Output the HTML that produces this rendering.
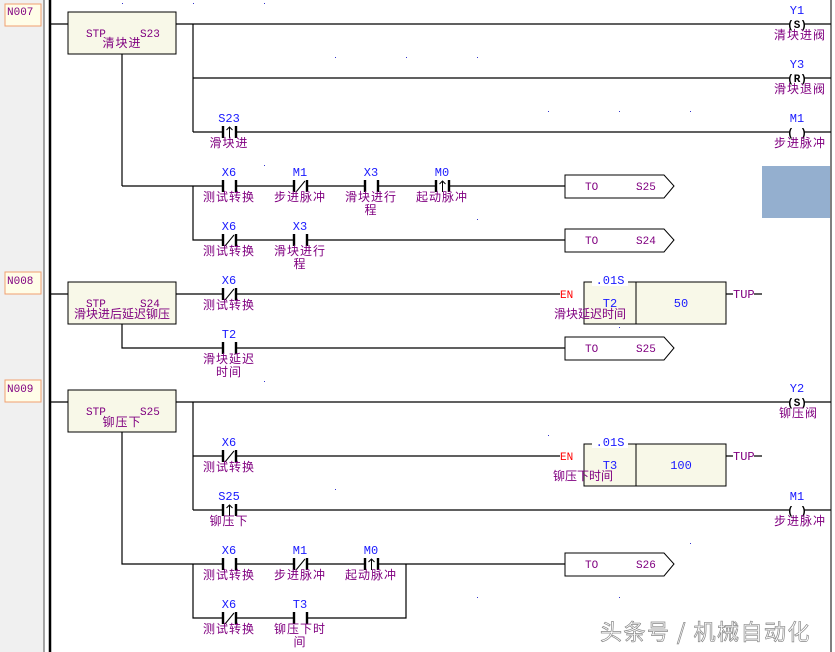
<!DOCTYPE html>
<html><head><meta charset="utf-8"><style>
html,body{margin:0;padding:0;background:#fff;}
svg{display:block;}
text{font-family:"Liberation Mono","Noto Sans CJK SC",monospace;font-size:11px;}
.l{fill:#1a1aff;text-anchor:middle;font-size:12px;}
.c{fill:#800080;text-anchor:middle;font-size:12px;letter-spacing:1px;font-family:"Noto Sans CJK SC",sans-serif;}
.cr{fill:#800080;text-anchor:end;font-size:12px;letter-spacing:1px;font-family:"Noto Sans CJK SC",sans-serif;}
.p{fill:#800080;font-size:11px;}
.w{stroke:#000;stroke-width:1.2;fill:none;}
.b{stroke:#000;stroke-width:2.4;}
</style></head><body>
<svg width="835" height="652" xmlns="http://www.w3.org/2000/svg">
<rect x="0" y="0" width="44" height="652" fill="#f0f0f0"/>
<line x1="44" y1="0" x2="44" y2="652" stroke="#888" stroke-width="1.5"/>
<line x1="50" y1="0" x2="50" y2="652" stroke="#000" stroke-width="2.5"/>
<line x1="831" y1="0" x2="831" y2="652" stroke="#000" stroke-width="1"/>
<rect x="762" y="166" width="68" height="52" fill="#94afcf"/>
<g fill="#3333cc">
<rect x="122" y="3" width="1" height="1"/><rect x="193" y="3" width="1" height="1"/><rect x="264" y="3" width="1" height="1"/>
<rect x="335" y="57" width="1" height="1"/><rect x="406" y="57" width="1" height="1"/><rect x="477" y="57" width="1" height="1"/>
<rect x="548" y="111" width="1" height="1"/><rect x="619" y="111" width="1" height="1"/><rect x="690" y="111" width="1" height="1"/>
<rect x="264" y="165" width="1" height="1"/><rect x="477" y="219" width="1" height="1"/><rect x="619" y="327" width="1" height="1"/>
<rect x="264" y="381" width="1" height="1"/><rect x="548" y="435" width="1" height="1"/><rect x="335" y="489" width="1" height="1"/>
<rect x="690" y="543" width="1" height="1"/><rect x="477" y="597" width="1" height="1"/><rect x="619" y="597" width="1" height="1"/>
</g>
<g>
<rect x="5" y="4" width="36" height="22" fill="#fffde8" stroke="#f0a070"/><text x="7" y="15" class="p">N007</text>
<rect x="5" y="272" width="36" height="22" fill="#fffde8" stroke="#f0a070"/><text x="7" y="284" class="p">N008</text>
<rect x="5" y="380" width="36" height="22" fill="#fffde8" stroke="#f0a070"/><text x="7" y="392" class="p">N009</text>
</g>
<g class="w">
<path d="M50 24H68M176 24H790M804 24H831"/>
<path d="M193 24V132M193 78H790M804 78H831"/>
<path d="M193 132H223M236 132H790M804 132H831"/>
<path d="M122 54V186M122 186H565M193 186V240H565"/>
<path d="M50 294H68M176 294H560M122 324V348H565"/>
<path d="M50 402H68M176 402H790M804 402H831"/>
<path d="M193 402V510M193 456H560M193 510H790M804 510H831"/>
<path d="M122 432V564H565M193 564V618H406V564"/>
<path d="M726 294H733M754 294H762M726 456H733M754 456H762"/>
</g>
<g fill="#f8f8e8" stroke="#000" stroke-width="1">
<rect x="68" y="12" width="108" height="42"/>
<rect x="68" y="282" width="108" height="42"/>
<rect x="68" y="390" width="108" height="42"/>
</g>
<text x="86" y="37" class="p">STP</text><text x="140" y="37" class="p">S23</text><text x="122" y="47" class="c">清块进</text>
<text x="86" y="307" class="p">STP</text><text x="140" y="307" class="p">S24</text><text x="122" y="318" class="c" style="letter-spacing:0">滑块进后延迟铆压</text>
<text x="86" y="415" class="p">STP</text><text x="140" y="415" class="p">S25</text><text x="122" y="426" class="c">铆压下</text>
<g fill="#fff">
<rect x="224" y="125" width="11" height="14"/><rect x="224" y="179" width="11" height="14"/><rect x="295" y="179" width="11" height="14"/><rect x="366" y="179" width="11" height="14"/><rect x="437" y="179" width="11" height="14"/>
<rect x="224" y="233" width="11" height="14"/><rect x="295" y="233" width="11" height="14"/><rect x="224" y="287" width="11" height="14"/><rect x="224" y="341" width="11" height="14"/>
<rect x="224" y="449" width="11" height="14"/><rect x="224" y="503" width="11" height="14"/><rect x="224" y="557" width="11" height="14"/><rect x="295" y="557" width="11" height="14"/><rect x="366" y="557" width="11" height="14"/>
<rect x="224" y="611" width="11" height="14"/><rect x="295" y="611" width="11" height="14"/>
</g>
<g class="b">
<path d="M223 126V138M236 126V138"/>
<path d="M223 180V192M236 180V192M294 180V192M307 180V192M365 180V192M378 180V192M436 180V192M449 180V192"/>
<path d="M223 234V246M236 234V246M294 234V246M307 234V246"/>
<path d="M223 288V300M236 288V300M223 342V354M236 342V354"/>
<path d="M223 450V462M236 450V462M223 504V516M236 504V516"/>
<path d="M223 558V570M236 558V570M294 558V570M307 558V570M365 558V570M378 558V570"/>
<path d="M223 612V624M236 612V624M294 612V624M307 612V624"/>
</g>
<g stroke="#000" stroke-width="1" fill="none">
<path d="M296 192L305 181M225 246L234 235M225 300L234 289M225 462L234 451M296 570L305 559M225 624L234 613"/>
<path d="M229.5 138V127M226.5 130L229.5 127L232.5 130"/>
<path d="M442.5 192V181M439.5 184L442.5 181L445.5 184"/>
<path d="M229.5 516V505M226.5 508L229.5 505L232.5 508"/>
<path d="M371.5 570V559M368.5 562L371.5 559L374.5 562"/>
</g>
<text x="229" y="122" class="l">S23</text><text x="229" y="147" class="c">滑块进</text>
<text x="229" y="176" class="l">X6</text><text x="229" y="201" class="c">测试转换</text>
<text x="300" y="176" class="l">M1</text><text x="300" y="201" class="c">步进脉冲</text>
<text x="371" y="176" class="l">X3</text><text x="371" y="201" class="c">滑块进行</text><text x="371" y="214" class="c">程</text>
<text x="442" y="176" class="l">M0</text><text x="442" y="201" class="c">起动脉冲</text>
<text x="229" y="230" class="l">X6</text><text x="229" y="255" class="c">测试转换</text>
<text x="300" y="230" class="l">X3</text><text x="300" y="255" class="c">滑块进行</text><text x="300" y="268" class="c">程</text>
<text x="229" y="284" class="l">X6</text><text x="229" y="309" class="c">测试转换</text>
<text x="229" y="338" class="l">T2</text><text x="229" y="363" class="c">滑块延迟</text><text x="229" y="376" class="c">时间</text>
<text x="229" y="446" class="l">X6</text><text x="229" y="471" class="c">测试转换</text>
<text x="229" y="500" class="l">S25</text><text x="229" y="525" class="c">铆压下</text>
<text x="229" y="554" class="l">X6</text><text x="229" y="579" class="c">测试转换</text>
<text x="300" y="554" class="l">M1</text><text x="300" y="579" class="c">步进脉冲</text>
<text x="371" y="554" class="l">M0</text><text x="371" y="579" class="c">起动脉冲</text>
<text x="229" y="608" class="l">X6</text><text x="229" y="633" class="c">测试转换</text>
<text x="300" y="608" class="l">T3</text><text x="300" y="633" class="c">铆压下时</text><text x="300" y="646" class="c">间</text>
<g style="font-weight:bold;font-size:13px;font-family:'Liberation Mono',monospace">
<text x="797" y="28" text-anchor="middle" fill="#000">(S)</text>
<text x="797" y="82" text-anchor="middle" fill="#000">(R)</text>
<text x="797" y="136" text-anchor="middle" fill="#000">( )</text>
<text x="797" y="406" text-anchor="middle" fill="#000">(S)</text>
<text x="797" y="514" text-anchor="middle" fill="#000">( )</text>
</g>
<text x="797" y="14" class="l">Y1</text><text x="826" y="39" class="cr">清块进阀</text>
<text x="797" y="68" class="l">Y3</text><text x="826" y="93" class="cr">滑块退阀</text>
<text x="797" y="122" class="l">M1</text><text x="826" y="147" class="cr">步进脉冲</text>
<text x="797" y="392" class="l">Y2</text><text x="818" y="417" class="cr">铆压阀</text>
<text x="797" y="500" class="l">M1</text><text x="826" y="525" class="cr">步进脉冲</text>
<g fill="#fff" stroke="#000" stroke-width="1">
<path d="M565 175H664L674 186L664 198H565Z"/>
<path d="M565 229H664L674 240L664 252H565Z"/>
<path d="M565 337H664L674 348L664 360H565Z"/>
<path d="M565 553H664L674 564L664 576H565Z"/>
</g>
<text x="585" y="190" class="p">TO</text><text x="636" y="190" class="p">S25</text>
<text x="585" y="244" class="p">TO</text><text x="636" y="244" class="p">S24</text>
<text x="585" y="352" class="p">TO</text><text x="636" y="352" class="p">S25</text>
<text x="585" y="568" class="p">TO</text><text x="636" y="568" class="p">S26</text>
<g fill="#f8f8e8" stroke="#000" stroke-width="1">
<rect x="584" y="282" width="142" height="42"/><line x1="636" y1="282" x2="636" y2="324"/>
<rect x="584" y="444" width="142" height="42"/><line x1="636" y1="444" x2="636" y2="486"/>
</g>
<rect x="592" y="276" width="36" height="10" fill="#fff"/><rect x="592" y="438" width="36" height="10" fill="#fff"/>
<text x="610" y="284" class="l">.01S</text><text x="610" y="446" class="l">.01S</text>
<text x="560" y="298" fill="#ff0000" font-size="12">EN</text><text x="560" y="460" fill="#ff0000" font-size="12">EN</text>
<text x="733" y="298" class="p" style="font-size:12px">TUP</text><text x="733" y="460" class="p" style="font-size:12px">TUP</text>
<text x="610" y="307" class="l">T2</text><text x="590" y="318" class="c" style="letter-spacing:0">滑块延迟时间</text>
<text x="681" y="307" class="l">50</text>
<text x="610" y="469" class="l">T3</text><text x="583" y="480" class="c" style="letter-spacing:0">铆压下时间</text>
<text x="681" y="469" class="l">100</text>
<text x="600" y="640" style="font-family:'Noto Sans CJK SC',sans-serif;font-size:22px;letter-spacing:1.5px;fill:#fff;stroke:#888;stroke-width:0.7">头条号 / 机械自动化</text>
</svg>
</body></html>
